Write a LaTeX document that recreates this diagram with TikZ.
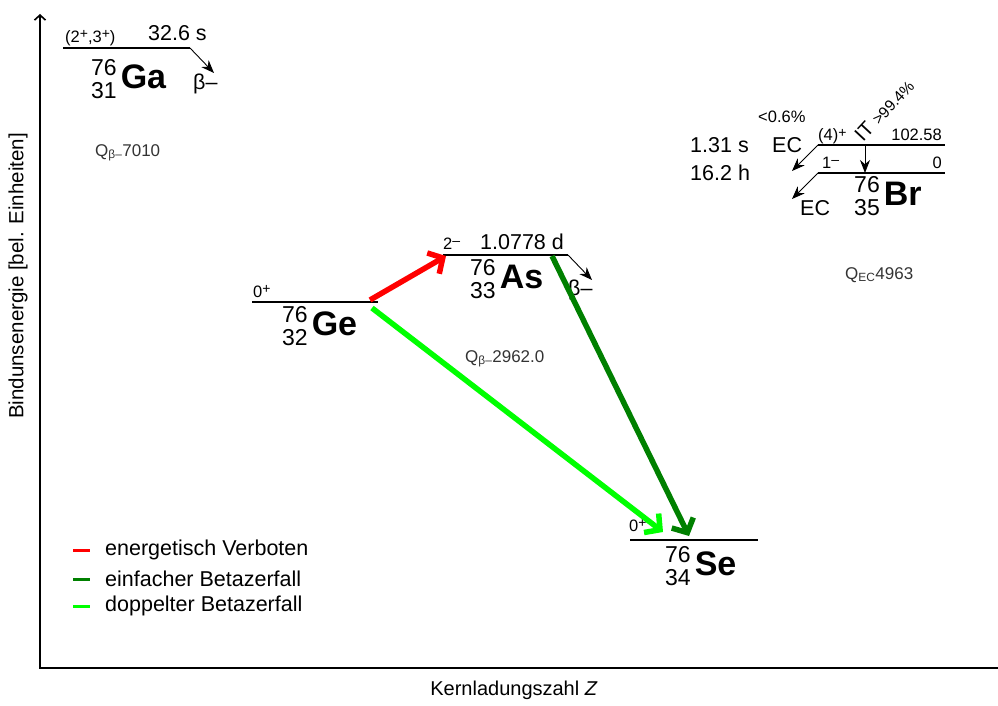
\documentclass[tikz,border=0pt]{standalone}
\usepackage{fontspec}
\setmainfont{Liberation Sans}
\usepackage{tikz}
\usetikzlibrary{arrows.meta}

\definecolor{forbid}{RGB}{255,0,0}
\definecolor{betaone}{RGB}{0,128,0}
\definecolor{betatwo}{RGB}{0,255,0}

% nuclide symbol: mass number over charge number, then the element
\newcommand\nucl[3]{{\fontsize{23}{22}\selectfont\begin{tabular}{@{}r@{}}#1\\#2\end{tabular}}\hspace{4pt}{\fontsize{34}{34}\selectfont\bfseries #3}}
% small raised parity sign
\newcommand\chg[1]{\raisebox{4pt}{\fontsize{14}{14}\selectfont#1}}

\begin{document}
\begin{tikzpicture}[x=1pt,y=-1pt,
  lab/.style={font=\fontsize{21.5}{23}\selectfont,inner sep=0pt,anchor=base west},
  sml/.style={font=\fontsize{16.5}{18}\selectfont,inner sep=0pt,anchor=base west},
  qval/.style={font=\fontsize{17}{19}\selectfont,inner sep=0pt,anchor=base west,black!80},
  iso/.style={inner sep=0pt,anchor=west},
  level/.style={line width=1.3pt},
  decay/.style={line width=0.9pt,-{Stealth[length=13pt,width=10pt]}},
  trans/.style={line width=5.5pt,-{Straight Barb[length=11pt,width=24pt]}},
  axis/.style={line width=1.6pt}]
\useasboundingbox (0,0) rectangle (998,706);
% axes
\coordinate (o) at (40,668);
\coordinate (ytop) at (40,14);
\coordinate (xend) at (998,668);
\draw[axis,-{Straight Barb[length=5pt,width=11pt]}] (xend) -- (o) -- (ytop);
\node[font=\fontsize{20.5}{22}\selectfont,rotate=90] (ylab) at (18,276) {Bindunsenergie [bel. Einheiten]};
\node[font=\fontsize{20}{22}\selectfont] (xlab) at (514,690) {Kernladungszahl \textit{Z}};

% Ga-76
\coordinate (ga-l) at (63,48);
\coordinate (ga-r) at (190,48);
\coordinate (ga-b) at (214,73);
\draw[level] (ga-l) -- (ga-r);
\draw[decay] (ga-r) -- (ga-b);
\node[sml] (ga-spin) at (65,43) {(2\chg{+},3\chg{+})};
\node[lab] (ga-t) at (148,41) {32.6 s};
\node[iso] (ga) at (91,82) {\nucl{76}{31}{Ga}};
\node[lab] (ga-beta) at (193,90) {β–};
\node[qval] (ga-q) at (95,156) {Q\textsubscript{β–}7010};

% Ge-76
\coordinate (ge-l) at (252,302);
\coordinate (ge-r) at (378,302);
\draw[level] (ge-l) -- (ge-r);
\node[sml] (ge-spin) at (253,297) {0\chg{+}};
\node[iso] (ge) at (282,329) {\nucl{76}{32}{Ge}};

% As-76
\coordinate (as-l) at (443,255);
\coordinate (as-r) at (568,255);
\coordinate (as-b) at (592,280);
\draw[level] (as-l) -- (as-r);
\draw[decay] (as-r) -- (as-b);
\node[sml] (as-spin) at (443,249) {2\chg{–}};
\node[lab] (as-t) at (480,249) {1.0778 d};
\node[iso] (as) at (470,282) {\nucl{76}{33}{As}};
\node[lab] (as-beta) at (568,295) {β–};
\node[qval] (as-q) at (465,362) {Q\textsubscript{β–}2962.0};

% Se-76
\coordinate (se-l) at (630,540);
\coordinate (se-r) at (758,540);
\draw[level] (se-l) -- (se-r);
\node[sml] (se-spin) at (629,531) {0\chg{+}};
\node[iso] (se) at (665,569) {\nucl{76}{34}{Se}};

% Br-76, isomer and ground state
\coordinate (br-ml) at (818,145);
\coordinate (br-mr) at (945,145);
\coordinate (br-gl) at (818,173);
\coordinate (br-gr) at (945,173);
\coordinate (br-ec1) at (792,171);
\coordinate (br-ec2) at (792,199);
\coordinate (br-it1) at (865,145);
\coordinate (br-it2) at (865,173);
\draw[level] (br-ml) -- (br-mr);
\draw[level] (br-gl) -- (br-gr);
\draw[decay] (br-ml) -- (br-ec1);
\draw[decay] (br-gl) -- (br-ec2);
\draw[decay] (br-it1) -- (br-it2);
\node[sml] (br-mspin) at (818,141) {(4)\chg{+}};
\node[sml,anchor=base east] (br-me) at (942,141) {102.58};
\node[sml] (br-gspin) at (822,168) {1\chg{–}};
\node[sml,anchor=base east] (br-ge) at (942,168) {0};
\node[sml] (br-mpct) at (758,123) {<0.6\%};
\node[lab] (br-mec) at (772,152) {EC};
\node[lab] (br-mt) at (690,152) {1.31 s};
\node[lab] (br-gt) at (690,180) {16.2 h};
\node[lab] (br-gec) at (800,215) {EC};
\node[sml,rotate=47] (br-it) at (863,143) {\fontsize{20}{22}\selectfont IT \fontsize{15.5}{17}\selectfont >99.4\%};
\node[iso] (br) at (854,199) {\nucl{76}{35}{Br}};
\node[qval] (br-q) at (845,279) {Q\textsubscript{EC}4963};

% transitions
\coordinate (ge-out1) at (370,300);
\coordinate (as-in) at (446,256);
\coordinate (ge-out2) at (372,308);
\coordinate (se-in1) at (663,532);
\coordinate (as-out) at (552,256);
\coordinate (se-in2) at (689,536);
\draw[trans,forbid] (ge-out1) -- (as-in);
\draw[trans,betatwo] (ge-out2) -- (se-in1);
\draw[trans,betaone] (as-out) -- (se-in2);

% legend
\coordinate (leg1-a) at (73,550);
\coordinate (leg1-b) at (90,550);
\coordinate (leg2-a) at (73,579);
\coordinate (leg2-b) at (90,579);
\coordinate (leg3-a) at (73,606);
\coordinate (leg3-b) at (90,606);
\draw[line width=3pt,forbid] (leg1-a) -- (leg1-b);
\draw[line width=3pt,betaone] (leg2-a) -- (leg2-b);
\draw[line width=3pt,betatwo] (leg3-a) -- (leg3-b);
\node[lab,anchor=west] (leg1) at (105,550) {energetisch Verboten};
\node[lab,anchor=west] (leg2) at (105,579) {einfacher Betazerfall};
\node[lab,anchor=west] (leg3) at (105,606) {doppelter Betazerfall};
\end{tikzpicture}
\end{document}
